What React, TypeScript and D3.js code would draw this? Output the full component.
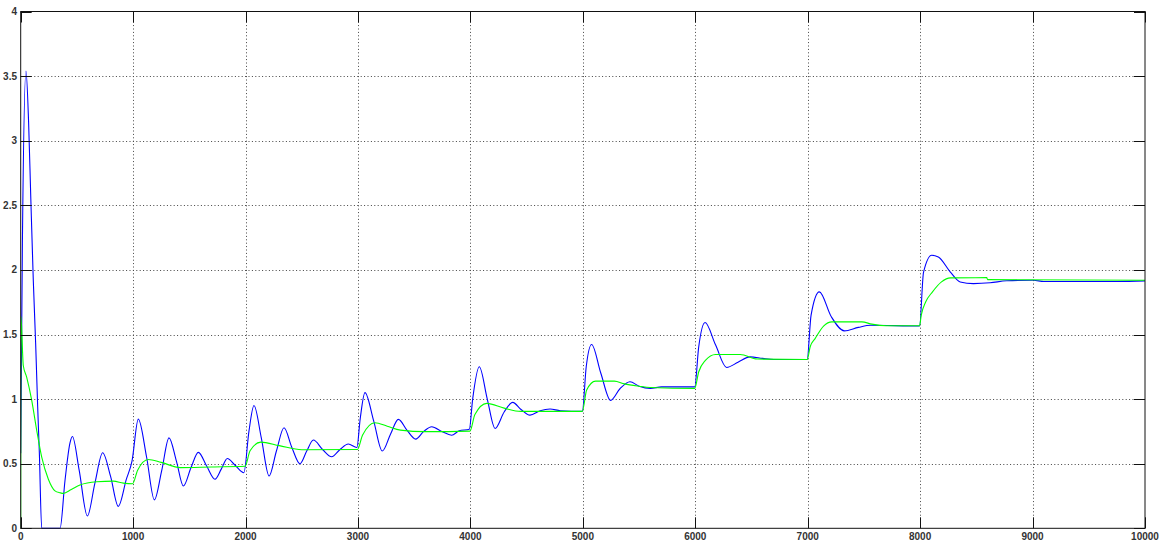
import React, { useEffect, useRef } from "react";
import * as d3 from "d3";

// x-axis ticks and y-axis ticks
const xTicks = [0, 1000, 2000, 3000, 4000, 5000, 6000, 7000, 8000, 9000, 10000];
const yTicks = [0, 0.5, 1, 1.5, 2, 2.5, 3, 3.5, 4];

// Blue series (time, value)
const blueT = [
  0, 15, 47, 70, 90, 112, 133, 151, 166, 187, 350, 394, 438, 460, 520, 593, 660, 729, 800, 868, 940, 990,
  1046, 1120, 1189, 1255, 1319, 1385, 1447, 1515, 1580, 1655, 1728, 1785, 1838, 1905, 1985,
  2030, 2075, 2140, 2209, 2275, 2342, 2410, 2484, 2545, 2603, 2685, 2766, 2840, 2914, 2990,
  3020, 3062, 3140, 3216, 3290, 3359, 3435, 3513, 3585, 3656, 3745, 3833, 3900, 3990,
  4020, 4079, 4150, 4219, 4300, 4376, 4450, 4530, 4620, 4708, 4800, 4995,
  5030, 5078, 5160, 5247, 5330, 5419, 5500, 5600, 5700, 5995,
  6030, 6087, 6180, 6279, 6380, 6487, 6600, 6700, 6995,
  7030, 7103, 7210, 7326, 7450, 7560, 7995,
  8030, 8103, 8162, 8267, 8356, 8474, 8622, 8770, 9007, 9100, 9750, 10000,
];
const blueV = [
  0.58, 2.2, 3.54, 3.15, 2.55, 1.92, 1.43, 0.94, 0.58, 0, 0, 0.37, 0.66, 0.71, 0.45, 0.095, 0.35, 0.585, 0.4, 0.17, 0.38, 0.52,
  0.845, 0.55, 0.22, 0.45, 0.7, 0.52, 0.327, 0.47, 0.588, 0.48, 0.38, 0.46, 0.54, 0.49, 0.43,
  0.75, 0.95, 0.7, 0.405, 0.6, 0.778, 0.63, 0.5, 0.6, 0.683, 0.61, 0.554, 0.61, 0.652, 0.625,
  0.85, 1.05, 0.83, 0.598, 0.73, 0.843, 0.76, 0.69, 0.75, 0.786, 0.75, 0.72, 0.755, 0.766,
  1.0, 1.25, 1.0, 0.773, 0.9, 0.975, 0.92, 0.876, 0.91, 0.923, 0.91, 0.905,
  1.25, 1.423, 1.2, 0.99, 1.08, 1.134, 1.1, 1.083, 1.095, 1.095,
  1.4, 1.593, 1.42, 1.245, 1.285, 1.327, 1.315, 1.307, 1.307,
  1.65, 1.83, 1.637, 1.528, 1.555, 1.572, 1.566,
  1.98, 2.113, 2.1, 1.985, 1.907, 1.894, 1.9, 1.916, 1.92, 1.91, 1.91, 1.915,
];

// Green series (time, value)
const greenT = [
  0, 2, 23, 53, 98, 142, 187, 246, 305, 350, 379, 450, 527, 676, 824, 913, 995,
  1040, 1135, 1250, 1419, 1700, 1995,
  2040, 2135, 2300, 2500, 2995,
  3040, 3151, 3260, 3378, 3600, 3995,
  4040, 4145, 4300, 4450, 4995,
  5034, 5113, 5280, 5370, 5500, 5600, 5995,
  6030, 6090, 6180, 6400, 6550, 6995,
  7022, 7067, 7141, 7215, 7482, 7570, 7700, 7995,
  8010, 8050, 8110, 8190, 8270, 8592, 8600, 10000,
];
const greenV = [
  0, 1.64, 1.26, 1.17, 0.99, 0.76, 0.55, 0.38, 0.29, 0.275, 0.27, 0.3, 0.335, 0.36, 0.365, 0.35, 0.345,
  0.45, 0.533, 0.51, 0.47, 0.475, 0.48,
  0.6, 0.667, 0.64, 0.608, 0.61,
  0.72, 0.817, 0.79, 0.76, 0.748, 0.752,
  0.88, 0.967, 0.93, 0.905, 0.905,
  1.07, 1.139, 1.139, 1.118, 1.1, 1.09, 1.083,
  1.21, 1.3, 1.345, 1.345, 1.31, 1.307,
  1.405, 1.47, 1.565, 1.598, 1.598, 1.58, 1.568, 1.568,
  1.65, 1.753, 1.83, 1.907, 1.938, 1.94, 1.925, 1.92,
];

const W = 1160;
const H = 542;
const M = { left: 20.7, right: 1145, top: 11.5, bottom: 528.3 };

export default function App() {
  const ref = useRef<SVGSVGElement>(null);

  useEffect(() => {
    document.body.style.margin = "0";
    const svg = d3.select(ref.current);
    svg.selectAll("*").remove();

    const x = d3.scaleLinear().domain([0, 10000]).range([M.left, M.right]);
    const y = d3.scaleLinear().domain([0, 4]).range([M.bottom, M.top]);

    svg.append("rect").attr("width", W).attr("height", H).attr("fill", "#fff");

    const grid = svg.append("g");
    xTicks.slice(1, -1).forEach((t) => {
      grid
        .append("line")
        .attr("x1", Math.round(x(t)) + 0.5)
        .attr("x2", Math.round(x(t)) + 0.5)
        .attr("y1", M.top)
        .attr("y2", M.bottom)
        .attr("stroke", "#444")
        .attr("stroke-width", 1)
        .attr("stroke-dasharray", "1,2.4");
    });
    yTicks.slice(1, -1).forEach((t) => {
      grid
        .append("line")
        .attr("x1", M.left)
        .attr("x2", M.right)
        .attr("y1", Math.round(y(t)) + 0.5)
        .attr("y2", Math.round(y(t)) + 0.5)
        .attr("stroke", "#444")
        .attr("stroke-width", 1)
        .attr("stroke-dasharray", "1,2.4");
    });

    svg
      .append("clipPath")
      .attr("id", "plotclip")
      .append("rect")
      .attr("x", M.left)
      .attr("y", M.top)
      .attr("width", M.right - M.left)
      .attr("height", M.bottom - M.top + 1);

    const line = d3
      .line<[number, number]>()
      .x((d) => x(d[0]))
      .y((d) => y(d[1]))
      .curve(d3.curveMonotoneX);

    const blue: [number, number][] = blueT.map((t, i) => [t, blueV[i]]);
    const green: [number, number][] = greenT.map((t, i) => [t, greenV[i]]);

    const plot = svg.append("g").attr("clip-path", "url(#plotclip)");
    plot
      .append("path")
      .attr("d", line(blue) as string)
      .attr("fill", "none")
      .attr("stroke", "#0000ff")
      .attr("stroke-width", 1.1);
    plot
      .append("path")
      .attr("d", line(green) as string)
      .attr("fill", "none")
      .attr("stroke", "#00ff00")
      .attr("stroke-width", 1.1);

    const box = svg.append("g");
    box
      .append("rect")
      .attr("x", M.left)
      .attr("y", M.top)
      .attr("width", M.right - M.left)
      .attr("height", M.bottom - M.top)
      .attr("fill", "none")
      .attr("stroke", "#111")
      .attr("stroke-width", 1);

    const tl = 11;
    xTicks.forEach((t) => {
      const xx = Math.round(x(t)) + 0.5;
      box.append("line").attr("x1", xx).attr("x2", xx).attr("y1", M.bottom).attr("y2", M.bottom - tl).attr("stroke", "#111");
      box.append("line").attr("x1", xx).attr("x2", xx).attr("y1", M.top).attr("y2", M.top + tl).attr("stroke", "#111");
      box
        .append("text")
        .attr("x", x(t))
        .attr("y", 540)
        .attr("text-anchor", "middle")
        .attr("font-family", "'Liberation Sans', Arial, sans-serif")
        .attr("font-size", 10)
        .attr("font-weight", "bold")
        .attr("fill", "#333")
        .text(String(t));
    });
    yTicks.forEach((t) => {
      const yy = Math.round(y(t)) + 0.5;
      box.append("line").attr("x1", M.left).attr("x2", M.left + tl).attr("y1", yy).attr("y2", yy).attr("stroke", "#111");
      box.append("line").attr("x1", M.right).attr("x2", M.right - tl).attr("y1", yy).attr("y2", yy).attr("stroke", "#111");
      box
        .append("text")
        .attr("x", 17)
        .attr("y", y(t) + 3.5)
        .attr("text-anchor", "end")
        .attr("font-family", "'Liberation Sans', Arial, sans-serif")
        .attr("font-size", 10)
        .attr("font-weight", "bold")
        .attr("fill", "#333")
        .text(String(t));
    });
  }, []);

  return (
    <svg
      ref={ref}
      width={W}
      height={H}
      style={{ position: "absolute", left: 0, top: 0, display: "block" }}
    />
  );
}
